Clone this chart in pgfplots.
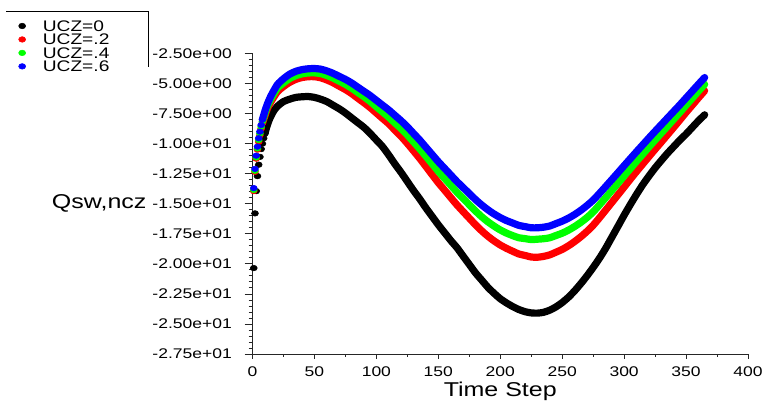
\documentclass[border=0pt]{standalone}
\usepackage{fontspec}
\setmainfont{Liberation Sans}[FakeStretch=1.25]
\usepackage{pgfplots}
\pgfplotsset{compat=1.18}
\definecolor{cR}{RGB}{255,0,0}
\definecolor{cG}{RGB}{0,255,0}
\definecolor{cB}{RGB}{0,0,255}
\begin{document}
\begin{tikzpicture}
\path[use as bounding box] (0,0) rectangle (571.5pt,306pt);
\begin{axis}[
  at={(189.375pt,40.5pt)}, anchor=south west,
  scale only axis, width=371.625pt, height=225.375pt,
  xmin=0, xmax=400, ymin=-27.5, ymax=-2.5,
  clip=false,
  axis lines=left, axis line style={-, line width=0.6pt, black!85},
  tick align=outside,
  major tick length=6pt, minor tick length=3pt,
  tick style={line width=0.6pt, black!85},
  xtick style={/pgfplots/major tick length=3.5pt, /pgfplots/minor tick length=2pt},
  xtick={0,50,100,150,200,250,300,350,400}, minor x tick num=1,
  xticklabels={0,50,100,150,200,250,300,350,400},
  ytick={-27.5,-25,-22.5,-20,-17.5,-15,-12.5,-10,-7.5,-5,-2.5}, minor y tick num=4,
  yticklabels={-2.75e+01,-2.50e+01,-2.25e+01,-2.00e+01,-1.75e+01,-1.50e+01,-1.25e+01,-1.00e+01,-7.50e+00,-5.00e+00,-2.50e+00},
  tick label style={font=\fontsize{10.5}{12}\selectfont},
  yticklabel style={xshift=-6pt},
  xlabel={Time Step},
  xlabel style={font=\fontsize{15}{18}\selectfont, yshift=3pt},
  ylabel={Qsw,ncz},
  ylabel style={font=\fontsize{15}{18}\selectfont, rotate=-90, at={(ticklabel cs:0.5)}, anchor=east, inner sep=1pt},
  legend image code/.code={\path[draw=none, fill=none] (-3pt,-1pt) rectangle (15pt,1pt); \draw[#1] plot coordinates {(0pt,0pt)};},
  legend style={at={(-0.4815,1.1220)}, anchor=north west, draw=none, fill=none,
    font=\fontsize{11.5}{12}\selectfont, row sep=0.8pt,
    nodes={inner sep=0.5pt, text height=8.3pt, text depth=0pt}},
  legend cell align=left,
]
% UCZ=0
\addplot[only marks, mark=*, mark size=2.1pt, black, mark options={xscale=1.25}] table {
1 -20.35
2 -15.8
3 -13.95
4 -12.7
5 -11.75
6 -11.1
7 -10.45
8 -10.0
9 -9.55
10 -9.15
};
\addlegendentry{UCZ=0}
\addplot[black, line width=5.4pt, line cap=round, line join=round, smooth, tension=0.4, forget plot] table {
10 -9.15
12 -8.45
14 -7.9
17 -7.3
20 -6.9
25 -6.5
30 -6.3
35 -6.15
40 -6.1
45 -6.08
50 -6.15
55 -6.3
60 -6.5
65 -6.8
70 -7.1
75 -7.45
80 -7.85
85 -8.25
90 -8.65
95 -9.15
100 -9.7
105 -10.25
110 -10.95
115 -11.7
120 -12.4
125 -13.15
130 -13.9
135 -14.6
140 -15.35
145 -16.05
150 -16.75
155 -17.4
160 -18.05
165 -18.65
170 -19.35
175 -20.05
180 -20.75
185 -21.35
190 -21.95
195 -22.45
200 -22.9
205 -23.25
210 -23.55
215 -23.8
220 -23.98
225 -24.08
230 -24.1
235 -24.03
240 -23.85
245 -23.58
250 -23.22
255 -22.78
260 -22.25
265 -21.65
270 -21.0
275 -20.3
280 -19.55
285 -18.72
290 -17.8
295 -16.88
300 -15.95
305 -15.07
310 -14.22
315 -13.42
320 -12.7
325 -12.02
330 -11.4
335 -10.8
340 -10.25
345 -9.7
350 -9.2
355 -8.65
360 -8.1
365 -7.6
};
% UCZ=.2
\addplot[only marks, mark=*, mark size=2.1pt, cR, mark options={xscale=1.25}] table {
1 -13.95
2 -12.35
3 -11.25
4 -10.5
5 -9.85
6 -9.3
7 -8.75
8 -8.3
};
\addlegendentry{UCZ=.2}
\addplot[cR, line width=5.4pt, line cap=round, line join=round, smooth, tension=0.4, forget plot] table {
8 -8.3
10 -7.7
12 -7.1
15 -6.5
20 -5.7
25 -5.25
30 -4.9
35 -4.65
40 -4.5
45 -4.43
50 -4.43
55 -4.52
60 -4.7
65 -4.93
70 -5.22
75 -5.5
80 -5.83
85 -6.22
90 -6.6
95 -7.0
100 -7.45
105 -7.9
110 -8.35
115 -8.88
120 -9.4
125 -9.98
130 -10.6
135 -11.23
140 -11.9
145 -12.58
150 -13.25
155 -13.86
160 -14.48
165 -15.09
170 -15.65
175 -16.2
180 -16.75
185 -17.25
190 -17.7
195 -18.09
200 -18.43
205 -18.71
210 -18.95
215 -19.18
220 -19.3
225 -19.43
230 -19.45
235 -19.38
240 -19.25
245 -19.03
250 -18.8
255 -18.5
260 -18.15
265 -17.75
270 -17.3
275 -16.79
280 -16.18
285 -15.54
290 -14.9
295 -14.26
300 -13.61
305 -12.96
310 -12.32
315 -11.7
320 -11.08
325 -10.47
330 -9.87
335 -9.26
340 -8.65
345 -8.03
350 -7.4
355 -6.8
360 -6.19
365 -5.6
};
% UCZ=.4
\addplot[only marks, mark=*, mark size=2.1pt, cG, mark options={xscale=1.25}] table {
1 -13.85
2 -12.25
3 -11.15
4 -10.4
5 -9.7
6 -9.15
7 -8.6
8 -8.15
};
\addlegendentry{UCZ=.4}
\addplot[cG, line width=5.4pt, line cap=round, line join=round, smooth, tension=0.4, forget plot] table {
8 -8.15
10 -7.5
12 -6.9
15 -6.25
20 -5.4
25 -4.95
30 -4.58
35 -4.34
40 -4.19
45 -4.12
50 -4.11
55 -4.17
60 -4.33
65 -4.54
70 -4.8
75 -5.07
80 -5.38
85 -5.74
90 -6.1
95 -6.49
100 -6.93
105 -7.36
110 -7.8
115 -8.28
120 -8.75
125 -9.28
130 -9.85
135 -10.43
140 -11.05
145 -11.68
150 -12.3
155 -12.88
160 -13.45
165 -14.03
170 -14.55
175 -15.08
180 -15.6
185 -16.08
190 -16.5
195 -16.86
200 -17.18
205 -17.44
210 -17.65
215 -17.83
220 -17.9
225 -17.98
230 -17.95
235 -17.91
240 -17.83
245 -17.64
250 -17.45
255 -17.2
260 -16.9
265 -16.55
270 -16.15
275 -15.68
280 -15.1
285 -14.51
290 -13.9
295 -13.3
300 -12.68
305 -12.08
310 -11.47
315 -10.88
320 -10.28
325 -9.7
330 -9.12
335 -8.55
340 -7.97
345 -7.4
350 -6.8
355 -6.22
360 -5.63
365 -5.06
};
% UCZ=.6
\addplot[only marks, mark=*, mark size=2.1pt, cB, mark options={xscale=1.25}] table {
1 -13.7
2 -12.1
3 -11.0
4 -10.25
5 -9.55
6 -9.0
7 -8.45
8 -8.0
};
\addlegendentry{UCZ=.6}
\addplot[cB, line width=5.4pt, line cap=round, line join=round, smooth, tension=0.4, forget plot] table {
8 -8.0
10 -7.3
12 -6.7
15 -6.0
20 -5.1
25 -4.6
30 -4.22
35 -3.98
40 -3.84
45 -3.77
50 -3.75
55 -3.8
60 -3.95
65 -4.15
70 -4.4
75 -4.65
80 -4.95
85 -5.3
90 -5.65
95 -6.0
100 -6.4
105 -6.8
110 -7.2
115 -7.65
120 -8.1
125 -8.6
130 -9.15
135 -9.7
140 -10.3
145 -10.9
150 -11.5
155 -12.05
160 -12.6
165 -13.15
170 -13.65
175 -14.15
180 -14.65
185 -15.1
190 -15.5
195 -15.85
200 -16.15
205 -16.4
210 -16.6
215 -16.8
220 -16.9
225 -17.0
230 -17.0
235 -16.95
240 -16.85
245 -16.65
250 -16.45
255 -16.2
260 -15.9
265 -15.55
270 -15.15
275 -14.7
280 -14.15
285 -13.58
290 -13.0
295 -12.42
300 -11.83
305 -11.25
310 -10.67
315 -10.1
320 -9.53
325 -8.97
330 -8.42
335 -7.87
340 -7.32
345 -6.77
350 -6.2
355 -5.63
360 -5.06
365 -4.5
};
\end{axis}
\draw[line width=0.75pt] (4.5pt,297pt) -- (111pt,297pt) -- (111pt,255.75pt);
\end{tikzpicture}
\end{document}
